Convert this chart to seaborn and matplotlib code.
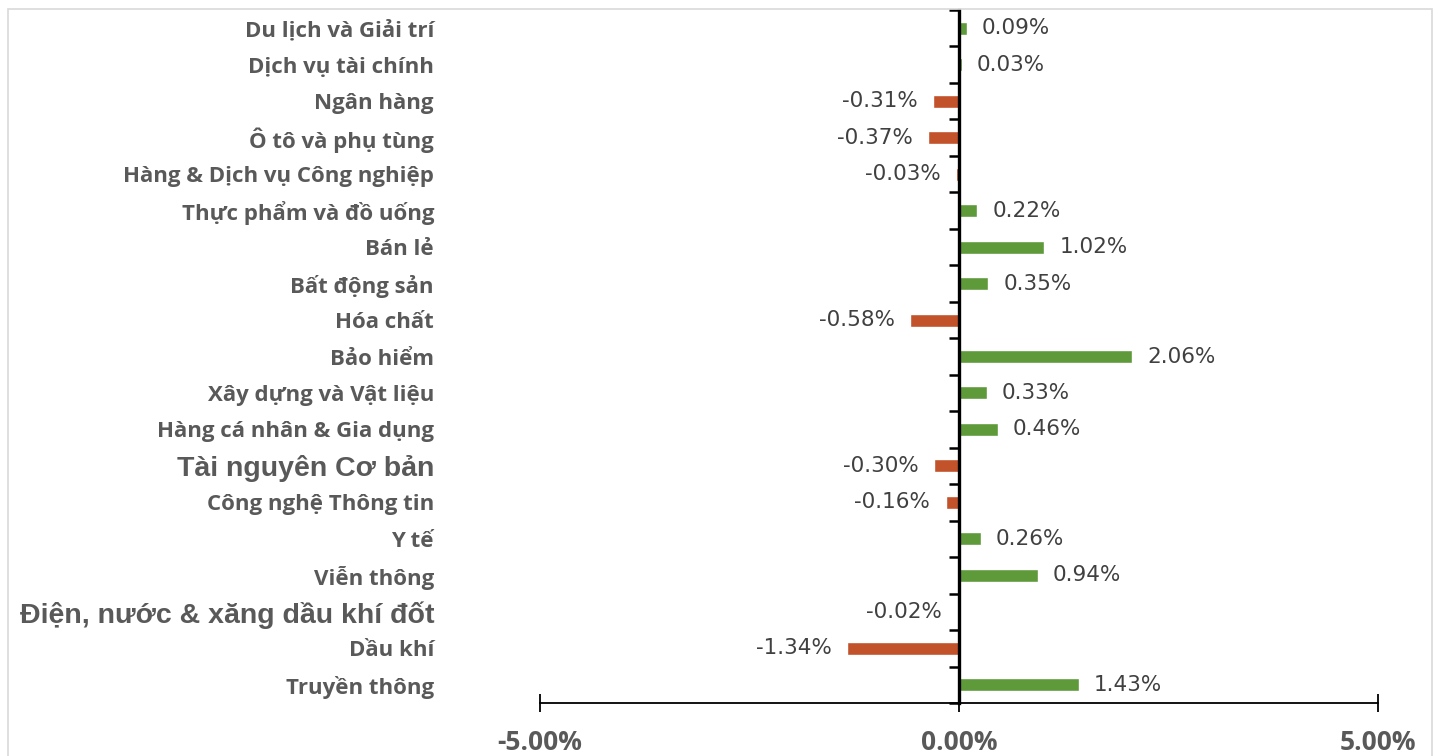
import matplotlib
matplotlib.use("Agg")
import matplotlib.pyplot as plt
import matplotlib.patches as patches
from matplotlib.ticker import FixedLocator
import seaborn as sns
import pandas as pd
import numpy as np

categories = [
    "Du lịch và Giải trí", "Dịch vụ tài chính", "Ngân hàng", "Ô tô và phụ tùng",
    "Hàng & Dịch vụ Công nghiệp", "Thực phẩm và đồ uống", "Bán lẻ", "Bất động sản",
    "Hóa chất", "Bảo hiểm", "Xây dựng và Vật liệu", "Hàng cá nhân & Gia dụng",
    "Tài nguyên Cơ bản", "Công nghệ Thông tin", "Y tế", "Viễn thông",
    "Điện, nước & xăng dầu khí đốt", "Dầu khí", "Truyền thông",
]
values = [0.09, 0.03, -0.31, -0.37, -0.03, 0.22, 1.02, 0.35, -0.58, 2.06,
          0.33, 0.46, -0.30, -0.16, 0.26, 0.94, -0.02, -1.34, 1.43]
x_ticks = [-5, 0, 5]
x_tick_labels = ["-5.00%", "0.00%", "5.00%"]

df = pd.DataFrame({"cat": categories, "val": values})
df["sign"] = np.where(df["val"] >= 0, "up", "down")

sns.set_style("white")
plt.rcParams["font.family"] = ["Open Sans", "DejaVu Sans"]

fig = plt.figure(figsize=(14.4, 7.56), dpi=100)
ax = fig.add_axes([540 / 1440, 1 - 703 / 756, 838 / 1440, 693 / 756])

sns.barplot(data=df, x="val", y="cat", hue="sign", order=categories,
            palette={"up": "#5E9A3A", "down": "#C2522A"}, width=0.355,
            saturation=1, legend=False, ax=ax, orient="h")

for c in ax.containers:
    ax.bar_label(c, labels=[f"{v:.2f}%" for v in c.datavalues], padding=11,
                 fontsize=15.5, color="#404040", family="DejaVu Sans")

ax.set_xlim(-5, 5)
ax.set_ylim(len(categories) - 0.5, -0.5)
ax.set_xlabel("")
ax.set_ylabel("")

for s in ["top", "right"]:
    ax.spines[s].set_visible(False)
ax.spines["left"].set_position(("data", 0))
ax.spines["left"].set_linewidth(2.4)
ax.spines["left"].set_color("black")
ax.spines["bottom"].set_linewidth(1.3)
ax.spines["bottom"].set_color("black")

ax.set_xticks(x_ticks, x_tick_labels)
ax.tick_params(axis="x", bottom=True, direction="inout", length=13, width=1.3,
               pad=12, labelsize=19, labelcolor="#595959", color="black")
for t in ax.get_xticklabels():
    t.set_fontweight("bold")

ax.set_yticks(range(len(categories)), categories)
ax.yaxis.set_minor_locator(FixedLocator(np.arange(-0.5, len(categories), 1)))
ax.tick_params(axis="y", which="major", left=True, length=0, pad=378,
               labelsize=16, labelcolor="#595959")
ax.tick_params(axis="y", which="minor", left=True, direction="out", length=7,
               width=1.8, color="black")
for t in ax.get_yticklabels():
    t.set_fontweight("bold")
    if t.get_text() in ("Tài nguyên Cơ bản", "Điện, nước & xăng dầu khí đốt"):
        t.set_family(["Liberation Sans", "DejaVu Sans"])
        t.set_fontsize(20.5)

frame = patches.Rectangle((8 / 1440, -0.02), 1424 / 1440, 1.02 - 9 / 756,
                          transform=fig.transFigure, fill=False,
                          edgecolor="#D9D9D9", linewidth=1.2, clip_on=False)
fig.patches.append(frame)

fig.savefig("out.png", dpi=100)
